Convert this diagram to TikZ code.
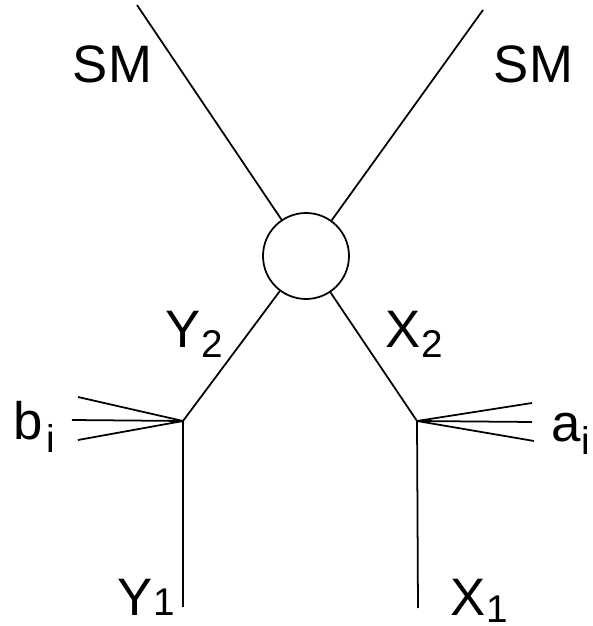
\documentclass[tikz,border=0pt]{standalone}
\usepackage{fontspec}
\setmainfont{Liberation Sans}
\usetikzlibrary{calc}

\newcommand{\lowsub}[2][0.1cm]{\raisebox{-#1}{\fontsize{11}{13}\selectfont #2}}

\begin{document}
\begin{tikzpicture}[line width=0.5pt,
  lbl/.style={inner sep=0pt, anchor=base west, font=\fontsize{15}{18}\selectfont}]

\useasboundingbox (0,0) rectangle (5.93,6.26);

% Blob in the middle
\node[draw, circle, minimum size=0.86cm, inner sep=0pt] (blob) at (3.06,3.70) {};

% Coordinates
\coordinate (smL) at (1.37,6.21);   % incoming SM, left
\coordinate (smR) at (4.83,6.16);   % incoming SM, right
\coordinate (vY) at (1.83,2.05);    % Y2 decay vertex
\coordinate (vX) at (4.17,2.05);    % X2 decay vertex
\coordinate (Y1) at (1.83,0.19);
\coordinate (X1) at (4.18,0.18);

% Ends of the b_i and a_i fans
\coordinate (b1) at (0.78,2.29);
\coordinate (b2) at (0.72,2.06);
\coordinate (b3) at (0.78,1.86);
\coordinate (a1) at (5.32,2.23);
\coordinate (a2) at (5.32,2.04);
\coordinate (a3) at (5.34,1.85);

% SM legs into the blob
\draw (smL) -- (blob);
\draw (smR) -- (blob);

% Y2 and X2 out of the blob
\draw (blob) -- (vY);
\draw (blob) -- (vX);

% Long lived Y1, X1
\draw (vY) -- (Y1);
\draw (vX) -- (X1);

% Fans
\foreach \e in {b1,b2,b3} \draw (\e) -- (vY);
\foreach \e in {a1,a2,a3} \draw (vX) -- (\e);

% Labels
\node[lbl] (tSML) at (0.72,5.43) {SM};
\node[lbl] (tSMR) at (4.93,5.43) {SM};
\node[lbl] (tY2) at (1.65,2.78) {Y\lowsub{2}};
\node[lbl] (tX2) at (3.85,2.78) {X\lowsub{2}};
\node[lbl] (tb) at (0.13,1.86) {b\hspace{0.03cm}\lowsub[0.13cm]{i}};
\node[lbl] (ta) at (5.51,1.84) {a\lowsub[0.13cm]{i}};
\node[lbl] (tY1) at (1.17,0.11) {Y\lowsub[0.01cm]{1}};
\node[lbl] (tX1) at (4.50,0.11) {X\lowsub[0.08cm]{1}};

\end{tikzpicture}
\end{document}
